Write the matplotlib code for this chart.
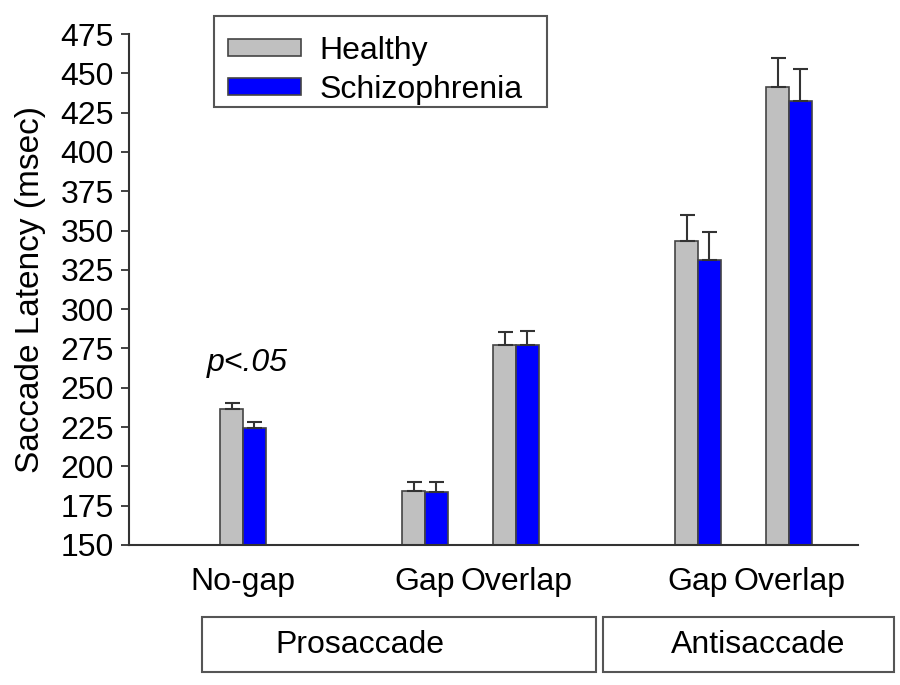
""" Saccade latency by task condition, healthy vs schizophrenia. """
import numpy as np
from matplotlib import pyplot as plt
from matplotlib.patches import Rectangle

# Data
conditions = ["No-gap", "Gap", "Overlap", "Gap", "Overlap"]
positions = [0, 2, 3, 5, 6]
healthy = [236.5, 184.5, 277.5, 343.5, 441.5]
healthy_err = [3.5, 5.5, 7.8, 16.3, 18.3]
schizophrenia = [224.5, 184.0, 277.5, 331.0, 432.3]
schizophrenia_err = [3.5, 6.3, 8.7, 18.3, 20.6]
yticks = list(range(150, 476, 25))
groups = ["Prosaccade", "Antisaccade"]

GRAY = "#c0c0c0"
BLUE = "#0000ff"
EDGE = "#444444"
FONT = ["Liberation Sans", "Arial", "DejaVu Sans"]
FS = 23

plt.rcParams['font.family'] = FONT
plt.rcParams['font.size'] = FS

fig = plt.figure(figsize=(9, 6.85), dpi=100)
ax = fig.add_axes([129 / 900, 1 - 545 / 685, (858 - 129) / 900, (545 - 34) / 685])

x = np.array(positions, dtype=float)
w = 0.25
ax.bar(x - w / 2, healthy, w, color=GRAY, edgecolor=EDGE,
       linewidth=1.2, label="Healthy", zorder=2)
ax.bar(x + w / 2, schizophrenia, w, color=BLUE, edgecolor=EDGE,
       linewidth=1.2, label="Schizophrenia", zorder=2)
ax.errorbar(x - w / 2, healthy, yerr=[np.zeros(5), healthy_err], fmt="none",
            ecolor="#333333", elinewidth=1.5, capsize=5.4, capthick=1.5, zorder=3)
ax.errorbar(x + w / 2, schizophrenia, yerr=[np.zeros(5), schizophrenia_err],
            fmt="none", ecolor="#333333", elinewidth=1.5, capsize=5.4,
            capthick=1.5, zorder=3)

ax.set_ylim(150, 475)
ax.set_xlim(-1.253, 6.758)
ax.set_yticks(yticks)
ax.set_xticks(x)
ax.set_xticklabels(conditions)
ax.tick_params(axis="x", length=0, pad=16, labelsize=FS)
ax.tick_params(axis="y", length=6, width=1.3, pad=5, labelsize=FS, color="#333333")
ax.set_ylabel("Saccade Latency (msec)", fontsize=FS + 1, labelpad=10)

for side in ("top", "right"):
    ax.spines[side].set_visible(False)
for side in ("left", "bottom"):
    ax.spines[side].set_color("#333333")
    ax.spines[side].set_linewidth(1.5)

ax.text(0.05, 266, "p<.05", style="italic", ha="center", va="center", fontsize=FS)

# Legend without its own frame; the frame is drawn separately below
leg = ax.legend(loc="center left", bbox_to_anchor=(228 / 900, 1 - 70.5 / 685),
                bbox_transform=fig.transFigure, borderaxespad=0, frameon=False,
                handlelength=2.3, handleheight=0.42, handletextpad=0.55,
                labelspacing=0.28, borderpad=0, fontsize=FS)
fig.patches.append(Rectangle((214 / 900, 1 - 107 / 685), 333 / 900, 91 / 685,
                             transform=fig.transFigure, facecolor="none",
                             edgecolor="#555555", linewidth=1.5))

# Boxes naming the task groups under the axis
boxes = [(202, 596, 360), (603, 894, 758)]
for name, (x0, x1, tx) in zip(groups, boxes):
    fig.patches.append(Rectangle((x0 / 900, 1 - 672 / 685), (x1 - x0) / 900,
                                 55 / 685, transform=fig.transFigure,
                                 facecolor="white", edgecolor="#555555",
                                 linewidth=1.5))
    fig.text(tx / 900, 1 - 645 / 685, name, ha="center", va="center", fontsize=FS)

fig.savefig("out.png", dpi=100)
